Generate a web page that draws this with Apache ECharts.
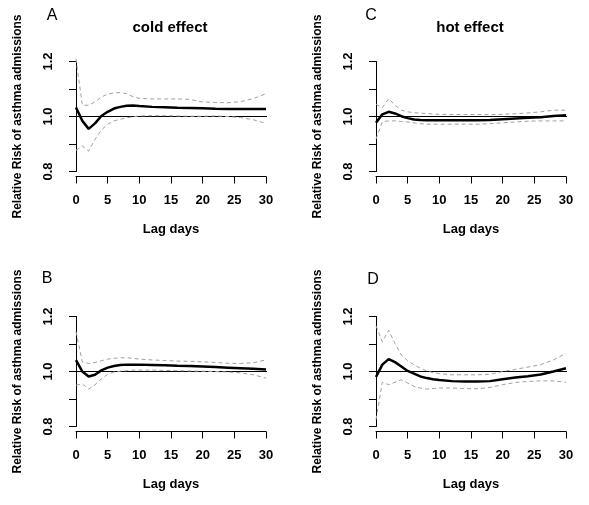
<!DOCTYPE html>
<html><head><meta charset="utf-8">
<script src="https://cdn.jsdelivr.net/npm/echarts@6/dist/echarts.min.js"></script>
<style>html,body{margin:0;padding:0;background:#fff}#c{width:589px;height:505px}</style>
</head><body><div id="c"></div>
<script>
const lags = [0,1,2,3,4,5,6,7,8,9,10,12,14,16,18,20,22,24,26,28,30];
const xTicks = [0,5,10,15,20,25,30];
const yTicks = [0.8,1.0,1.2];
const panelLetters = ['A','B','C','D'];
const panelTitles = ['cold effect','','hot effect',''];
const yTitle = 'Relative Risk of asthma admissions';
const xTitle = 'Lag days';

const coldLag0_rr  = [1.033,0.984,0.955,0.975,1.002,1.017,1.029,1.035,1.039,1.040,1.038,1.035,1.034,1.032,1.031,1.030,1.028,1.027,1.027,1.027,1.027];
const coldLag0_hi  = [1.210,1.041,1.041,1.053,1.071,1.081,1.086,1.087,1.083,1.072,1.066,1.064,1.064,1.064,1.062,1.053,1.051,1.050,1.054,1.065,1.083];
const coldLag0_lo  = [0.877,0.893,0.874,0.917,0.950,0.972,0.984,0.990,0.995,0.999,1.002,1.003,1.003,1.002,1.001,1.001,1.002,1.000,0.996,0.988,0.975];

const coldB_rr = [1.041,1.000,0.982,0.988,1.004,1.014,1.020,1.024,1.025,1.025,1.025,1.024,1.023,1.021,1.020,1.018,1.016,1.014,1.012,1.010,1.007];
const coldB_hi = [1.145,1.035,1.029,1.033,1.039,1.045,1.048,1.050,1.050,1.048,1.045,1.042,1.040,1.038,1.037,1.035,1.033,1.030,1.029,1.032,1.042];
const coldB_lo = [0.950,0.955,0.936,0.952,0.973,0.990,0.998,1.001,1.003,1.005,1.005,1.005,1.004,1.003,1.002,1.001,1.000,0.998,0.995,0.988,0.976];

const hotC_rr = [0.977,1.008,1.017,1.011,1.001,0.994,0.989,0.987,0.986,0.986,0.986,0.986,0.986,0.986,0.987,0.990,0.993,0.995,0.997,1.002,1.005];
const hotC_hi = [1.045,1.032,1.065,1.041,1.023,1.017,1.014,1.012,1.011,1.009,1.008,1.007,1.007,1.007,1.007,1.008,1.010,1.013,1.017,1.023,1.023];
const hotC_lo = [0.918,0.981,0.984,0.984,0.982,0.980,0.977,0.974,0.972,0.972,0.972,0.972,0.972,0.972,0.974,0.977,0.980,0.983,0.984,0.984,0.984];

const hotD_rr = [0.980,1.025,1.045,1.034,1.018,1.002,0.992,0.982,0.976,0.972,0.969,0.965,0.964,0.964,0.965,0.972,0.978,0.983,0.989,1.000,1.012];
const hotD_hi = [1.166,1.108,1.150,1.102,1.060,1.039,1.024,1.012,1.002,0.996,0.992,0.988,0.988,0.988,0.990,1.000,1.008,1.016,1.025,1.042,1.066];
const hotD_lo = [0.825,0.961,0.952,0.961,0.970,0.958,0.946,0.940,0.936,0.938,0.940,0.940,0.938,0.937,0.942,0.952,0.960,0.964,0.966,0.966,0.961];

const refLine = [[-1.2,1.0],[31.2,1.0]];

const panels = [
  {rr:coldLag0_rr, hi:coldLag0_hi, lo:coldLag0_lo, left:76, top:61.5},
  {rr:coldB_rr, hi:coldB_hi, lo:coldB_lo, left:76, top:316.5},
  {rr:hotC_rr, hi:hotC_hi, lo:hotC_lo, left:376, top:61.5},
  {rr:hotD_rr, hi:hotD_hi, lo:hotD_lo, left:376, top:316.5}
];
const letterPos = [[52,16],[47,279],[371,16],[373,280]];
const titlePos = [[170,28],null,[470,28],null];

const font = 'Liberation Sans, Arial, sans-serif';
const pair = arr => lags.map((d,i)=>[d,arr[i]]);

const grids=[], xAxes=[], yAxes=[], series=[], titles=[];
panels.forEach((p,i)=>{
  grids.push({left:p.left, top:p.top, width:190, height:110});
  xAxes.push({type:'value', gridIndex:i, min:0, max:30, interval:5, offset:5,
    axisLine:{show:true, lineStyle:{color:'#000', width:1}},
    axisTick:{show:true, length:7, lineStyle:{color:'#000'}},
    axisLabel:{color:'#000', fontWeight:'bold', fontSize:13, fontFamily:font, margin:17,
      formatter:v=> xTicks.indexOf(Math.round(v))>=0 ? String(Math.round(v)) : ''},
    splitLine:{show:false},
    name:xTitle, nameLocation:'middle', nameGap:46,
    nameTextStyle:{color:'#000', fontWeight:'bold', fontSize:13, fontFamily:font}
  });
  yAxes.push({type:'value', gridIndex:i, min:0.8, max:1.2, interval:0.1, offset:8,
    axisLine:{show:true, lineStyle:{color:'#000', width:1}},
    axisTick:{show:true, length:7, lineStyle:{color:'#000'}},
    axisLabel:{color:'#000', fontWeight:'bold', fontSize:13, fontFamily:font, rotate:90, margin:13,
      formatter:v=>{const r=Math.round(v*10)/10; return yTicks.some(t=>Math.abs(t-r)<1e-6)? r.toFixed(1):'';}},
    splitLine:{show:false},
    name:yTitle, nameLocation:'middle', nameGap:44,
    nameTextStyle:{color:'#000', fontWeight:'bold', fontSize:12, fontFamily:font}
  });
  const common = {xAxisIndex:i, yAxisIndex:i, type:'line', symbol:'none', clip:false, silent:true, animation:false};
  series.push(Object.assign({}, common, {data:refLine, lineStyle:{color:'#000', width:1}}));
  series.push(Object.assign({}, common, {data:pair(p.hi), lineStyle:{color:'#a0a0a0', width:1, type:[4,3]}}));
  series.push(Object.assign({}, common, {data:pair(p.lo), lineStyle:{color:'#a0a0a0', width:1, type:[4,3]}}));
  series.push(Object.assign({}, common, {data:pair(p.rr), lineStyle:{color:'#000', width:2.5}}));
  titles.push({text:panelLetters[i], left:letterPos[i][0], top:letterPos[i][1], textAlign:'center', textVerticalAlign:'middle',
    textStyle:{fontSize:16, fontWeight:'normal', color:'#000', fontFamily:font}, padding:0});
  if (titlePos[i]) titles.push({text:panelTitles[i], left:titlePos[i][0], top:titlePos[i][1], textAlign:'center', textVerticalAlign:'middle',
    textStyle:{fontSize:15, fontWeight:'bold', color:'#000', fontFamily:font}, padding:0});
});

const chart = echarts.init(document.getElementById('c'), null, {renderer:'canvas'});
chart.setOption({backgroundColor:'#fff', animation:false, title:titles, grid:grids, xAxis:xAxes, yAxis:yAxes, series:series});
</script></body></html>
